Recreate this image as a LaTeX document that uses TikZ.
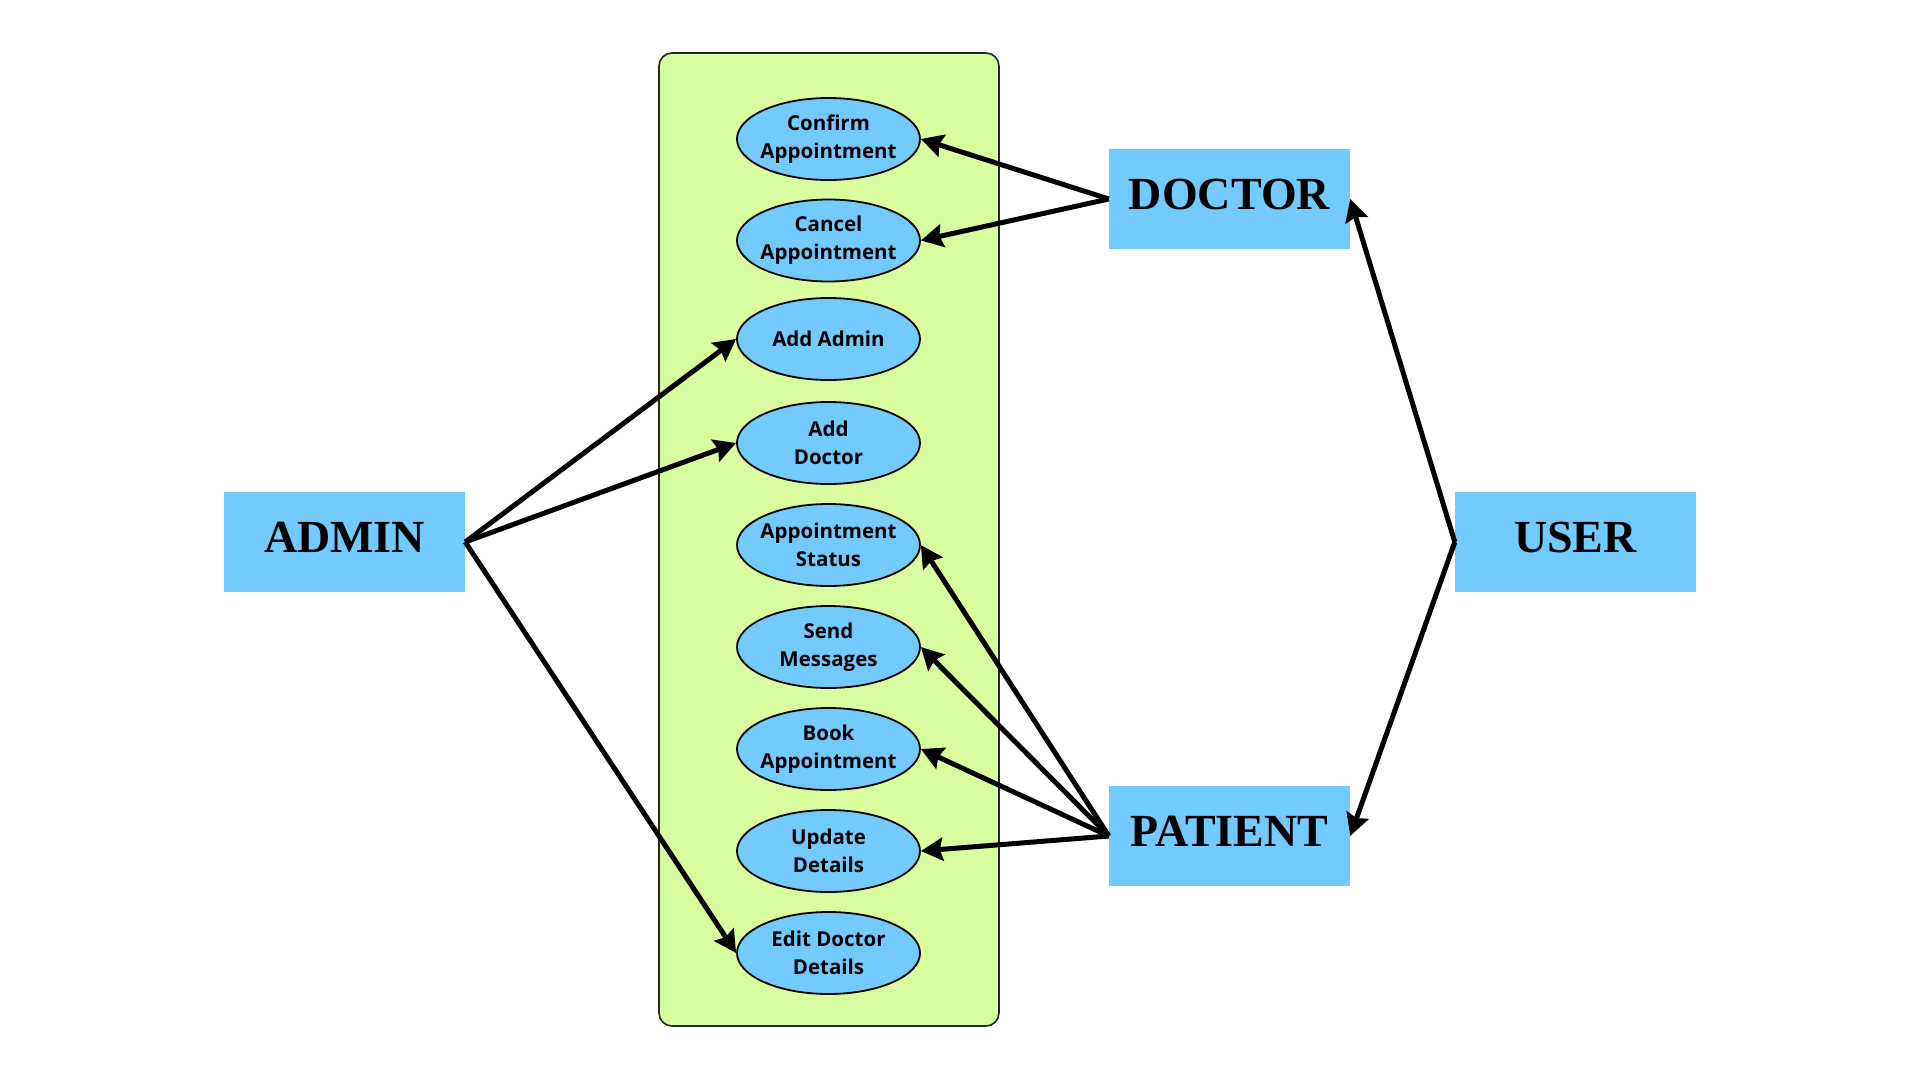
\documentclass[tikz,border=0pt]{standalone}
\usepackage{fontspec}
\setmainfont{Liberation Serif}
\newfontfamily\ucfont{Open Sans}
\usetikzlibrary{shapes.geometric,arrows.meta}
\definecolor{boxblue}{HTML}{72CAFF}
\definecolor{panelgreen}{HTML}{D7FD9E}
\begin{document}
\begin{tikzpicture}[x=1pt,y=-1pt,
  actor/.style={fill=boxblue, minimum width=241pt, minimum height=100pt, inner sep=0pt,
    text height=32pt, text depth=12pt, font=\fontsize{46}{50}\selectfont\bfseries},
  usecase/.style={ellipse, draw=black, line width=1.8pt, fill=boxblue,
    minimum width=183pt, minimum height=82pt, inner xsep=-40pt, inner ysep=-15pt, align=center,
    font=\ucfont\bfseries\fontsize{20.5}{28}\selectfont},
  panelbox/.style={draw=black!85, line width=1.6pt, rounded corners=13pt, fill=panelgreen,
    minimum width=340pt, minimum height=973pt, inner sep=0pt},
  link/.style={line width=5pt, arrows={-Stealth[length=22pt 0, width=23pt 0, inset=3pt 0]}}]
\useasboundingbox (0,0) rectangle (1920,1080);
\fill[white] (0,0) rectangle (1920,1080);

\node[panelbox] (panel) at (829,539.5) {};

\node[usecase] (confirm) at (828.5,139) {Confirm\\Appointment};
\node[usecase] (cancel)  at (828.5,240.5) {Cancel\\Appointment};
\node[usecase] (addadmin) at (828.5,339) {Add Admin};
\node[usecase] (adddoc) at (828.5,443) {Add\\Doctor};
\node[usecase] (status) at (828.5,545) {Appointment\\Status};
\node[usecase] (send) at (828.5,647) {Send\\Messages};
\node[usecase] (book) at (828.5,749) {Book\\Appointment};
\node[usecase] (update) at (828.5,851) {Update\\Details};
\node[usecase] (edit) at (828.5,953) {Edit Doctor\\Details};

\node[actor] (admin) at (344.5,542) {ADMIN};
\node[actor] (doctor) at (1229.5,199) {DOCTOR};
\node[actor] (patient) at (1229.5,836) {PATIENT};
\node[actor] (user) at (1575.5,542) {USER};

\draw[link] (doctor.west) -- (confirm.east);
\draw[link] (doctor.west) -- (cancel.east);
\draw[link] (admin.east) -- (addadmin.west);
\draw[link] (admin.east) -- (adddoc.west);
\draw[link] (admin.east) -- (edit.west);
\draw[link] (patient.west) -- (status.east);
\draw[link] (patient.west) -- (send.east);
\draw[link] (patient.west) -- (book.east);
\draw[link] (patient.west) -- (update.east);
\draw[link] (user.west) -- (doctor.east);
\draw[link] (user.west) -- (patient.east);
\end{tikzpicture}
\end{document}
